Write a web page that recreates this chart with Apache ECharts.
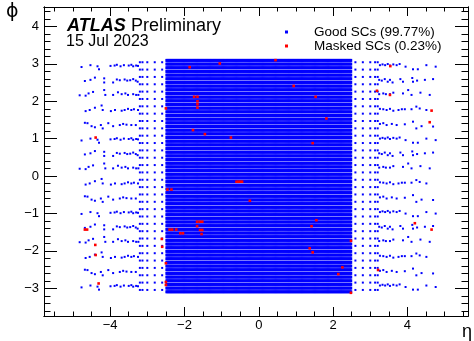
<!DOCTYPE html>
<html lang="en">
<head>
<meta charset="UTF-8">
<title>SC eta-phi map</title>
<script src="https://cdn.jsdelivr.net/npm/echarts@6/dist/echarts.min.js"></script>
<style>
  html, body { margin: 0; padding: 0; background: #fff; }
  #main { width: 474px; height: 341px; }
</style>
</head>
<body>
<div id="main"></div>
<script type="text/javascript">

// detector grid of the super cells
const centralEtaRange = [-2.5, 2.5];
const centralEtaStep = 0.025;
const centralPhiBins = 64;
const endcapEtaAbs = [2.6, 2.8, 3.0, 3.13, 3.2];
const endcapPhiBins = 32;
const fcalPhiBins = 16;

// FCAL band patterns: [eta, phi offset from band centre]
const fcalLeft = [
    [[-4.77,-0.03],[-4.53,0.02],[-4.34,-0.01],[-4.30,-0.09],[-3.99,0],[-3.88,0.01],[-3.82,0.03],[-3.72,-0.01],[-3.63,0.02],[-3.50,0.01],[-3.43,0.03],[-3.38,-0.01],[-3.30,0.01],[-3.25,0]],
    [[-4.68,-0.01],[-4.53,0.02],[-4.41,0.08],[-4.16,0.06],[-4.16,-0.05],[-3.92,-0.05],[-3.82,0.03],[-3.74,0.01],[-3.61,0.03],[-3.54,0],[-3.46,0.01],[-3.38,0.04],[-3.31,0],[-3.26,-0.03]],
    [[-4.82,0],[-4.66,-0.01],[-4.58,0.05],[-4.46,0.09],[-4.16,0.14],[-4.13,0.01],[-3.92,0.01],[-3.79,0.08],[-3.69,0.03],[-3.59,0.05],[-3.52,0.01],[-3.38,0.03],[-3.30,0.01],[-3.24,0.01]],
    [[-4.66,-0.03],[-4.55,0],[-4.41,0.06],[-4.23,0.12],[-4.20,0],[-3.98,-0.03],[-3.87,0],[-3.69,-0.02],[-3.61,0],[-3.52,0.03],[-3.43,0],[-3.36,0.02],[-3.25,0]],
    [[-4.68,0.05],[-4.61,0.04],[-4.50,-0.04],[-4.41,-0.07],[-4.25,-0.01],[-4.20,-0.10],[-4.05,0.04],[-3.92,-0.04],[-3.74,-0.01],[-3.65,0.02],[-3.56,0],[-3.43,-0.01],[-3.31,-0.01]]
];
const fcalRight = [
    [[3.26,0.02],[3.33,0.04],[3.40,0.02],[3.47,0.05],[3.53,0.01],[3.62,0.04],[3.71,0.02],[3.79,0.05],[3.95,-0.02],[4.15,-0.09],[4.28,-0.09],[4.51,0.02],[4.76,-0.02]],
    [[3.24,0.02],[3.31,0],[3.39,0.04],[3.47,-0.03],[3.53,0.02],[3.60,-0.05],[3.81,0.04],[3.88,-0.03],[4.13,0.07],[4.15,-0.03],[4.26,0],[4.47,0.02],[4.69,0.04]],
    [[3.24,0.03],[3.35,0.05],[3.42,0.03],[3.53,0.03],[3.62,0.07],[3.88,0.05],[4.02,0.14],[4.11,0.01],[4.35,0.07],[4.60,0.01]],
    [[3.26,0.03],[3.35,0.02],[3.44,0],[3.53,0.03],[3.62,-0.02],[3.76,0],[3.85,0.02],[3.93,0.02],[4.11,0.02],[4.24,0.09],[4.33,0.04],[4.51,0]],
    [[3.26,0.02],[3.35,0.04],[3.44,-0.01],[3.58,0.02],[3.71,-0.01],[3.93,0.01],[4.15,0.08],[4.24,-0.10],[4.38,-0.04],[4.69,-0.05]]
];

// masked super cells [eta, phi]
const maskedSCs = [
    [-1.86,2.91],[-1.05,3.01],[-1.74,2.12],[-1.65,2.12],[-1.65,2.00],[-1.65,1.92],[-1.65,1.83],
    [-2.50,1.81],[0.45,3.10],[0.94,2.41],[1.53,2.12],[1.82,1.54],[3.54,2.94],[3.18,2.28],
    [3.53,2.17],[4.65,1.75],[4.60,1.44],[-4.39,1.03],[-1.77,1.23],[-1.45,1.12],[-0.75,1.03],
    [1.45,0.88],[-0.60,-0.15],[-0.55,-0.15],[-0.50,-0.15],[-0.45,-0.15],[-0.24,-0.66],
    [-2.46,-0.36],[-2.35,-0.36],[-1.66,-1.22],[-1.59,-1.22],[-1.52,-1.22],[-1.66,-1.34],
    [-1.58,-1.44],[-1.52,-1.44],[-1.54,-1.55],[-2.40,-1.43],[-2.33,-1.43],[-2.22,-1.43],
    [-2.11,-1.53],[-2.04,-1.53],[-2.61,-1.68],[-4.68,-1.43],[-4.62,-1.43],[-4.40,-1.84],
    [-4.39,-2.11],[-4.31,-2.87],[-2.60,-1.89],[-2.50,-2.33],[-2.50,-2.83],[-2.50,-2.91],
    [4.20,-1.26],[4.65,-1.43],[1.42,-1.34],[1.55,-1.18],[2.48,-1.73],[1.37,-1.93],[1.45,-2.04],
    [2.25,-2.44],[2.14,-2.62],[3.21,-2.51],[2.48,-3.12]
];

const xMajor = [-4, -2, 0, 2, 4];
const xMinor = [-5.5,-5,-4.5,-3.5,-3,-2.5,-1.5,-1,-0.5,0.5,1,1.5,2.5,3,3.5,4.5,5,5.5];
const yMajor = [-3, -2, -1, 0, 1, 2, 3, 4];
const yMinor = [-3.6,-3.4,-3.2,-2.8,-2.6,-2.4,-2.2,-1.8,-1.6,-1.4,-1.2,-0.8,-0.6,-0.4,-0.2,
                0.2,0.4,0.6,0.8,1.2,1.4,1.6,1.8,2.2,2.4,2.6,2.8,3.2,3.4,3.6,3.8,4.2,4.4];

// build the cell positions
const centralSCs = [];
const nEta = Math.round((centralEtaRange[1] - centralEtaRange[0]) / centralEtaStep);
for (let j = 0; j < centralPhiBins; j++) {
    const phi = -Math.PI + (j + 0.5) * 2 * Math.PI / centralPhiBins;
    for (let i = 0; i < nEta; i++) {
        centralSCs.push([centralEtaRange[0] + (i + 0.5) * centralEtaStep, phi]);
    }
}
const outerSCs = [];
for (let j = 0; j < endcapPhiBins; j++) {
    const phi = -Math.PI + (j + 0.5) * 2 * Math.PI / endcapPhiBins;
    endcapEtaAbs.forEach(a => { outerSCs.push([-a, phi]); outerSCs.push([a, phi]); });
}
for (let k = 0; k < fcalPhiBins; k++) {
    const phi = -Math.PI + (k + 0.5) * 2 * Math.PI / fcalPhiBins;
    const t = fcalPhiBins - 1 - k;
    fcalLeft[t % fcalLeft.length].forEach(p => outerSCs.push([p[0], phi + p[1]]));
    fcalRight[t % fcalRight.length].forEach(p => outerSCs.push([p[0], phi + p[1]]));
}

const FONT = 'Liberation Sans';
const minus = v => (v < 0 ? '\u2212' + Math.abs(v) : String(v));

function xAx(pos, ticks, len, labels) {
    return {
        type: 'value', position: pos, min: -5.78, max: 5.63,
        axisLine: { show: true, onZero: false, lineStyle: { color: '#000', width: 1 } },
        axisTick: { show: true, inside: true, length: len, customValues: ticks, lineStyle: { color: '#000' } },
        axisLabel: labels ? { show: true, customValues: ticks, formatter: minus, margin: 3,
                              fontFamily: FONT, fontSize: 13, color: '#000' } : { show: false },
        splitLine: { show: false }
    };
}
function yAx(pos, ticks, len, labels) {
    return {
        type: 'value', position: pos, min: -3.74, max: 4.52,
        axisLine: { show: true, onZero: false, lineStyle: { color: '#000', width: 1 } },
        axisTick: { show: true, inside: true, length: len, customValues: ticks, lineStyle: { color: '#000' } },
        axisLabel: labels ? { show: true, customValues: ticks, formatter: minus, margin: 5,
                              fontFamily: FONT, fontSize: 13, color: '#000' } : { show: false },
        splitLine: { show: false }
    };
}

let myChart = echarts.init(document.getElementById('main'));

let option = {
    animation: false,
    backgroundColor: '#fff',
    grid: { left: 44, top: 7, width: 424, height: 309 },
    xAxis: [
        xAx('bottom', xMajor, 9, true),
        xAx('bottom', xMinor, 4.5, false),
        xAx('top', xMajor, 9, false),
        xAx('top', xMinor, 4.5, false)
    ],
    yAxis: [
        yAx('left', yMajor, 13, true),
        yAx('left', yMinor, 6.5, false),
        yAx('right', yMajor, 13, false),
        yAx('right', yMinor, 6.5, false)
    ],
    legend: {
        orient: 'vertical', left: 280, top: 20, itemWidth: 3, itemHeight: 3, itemGap: 0,
        data: ['Good SCs (99.77%)', 'Masked SCs (0.23%)'],
        textStyle: { fontFamily: FONT, fontSize: 13.5, color: '#000', lineHeight: 14, padding: [0, 0, 0, 21] }
    },
    graphic: [
        { type: 'text', left: 67, top: 17, style: { text: 'ATLAS', font: 'italic bold 18px "Liberation Sans"', fill: '#000' } },
        { type: 'text', left: 131, top: 17, style: { text: 'Preliminary', font: '18px "Liberation Sans"', fill: '#000' } },
        { type: 'text', left: 66, top: 34, style: { text: '15 Jul 2023', font: '16px "Liberation Sans"', fill: '#000' } },
        { type: 'text', left: 6, top: 3, style: { text: '\u03d5', font: '19px "DejaVu Sans"', fill: '#000' } },
        { type: 'text', left: 462, top: 323, style: { text: '\u03b7', font: '18px "Liberation Sans"', fill: '#000' } }
    ],
    series: [
        {
            name: 'Good SCs (99.77%)', type: 'scatter', data: centralSCs,
            symbol: 'rect', symbolSize: [2, 3], large: true, largeThreshold: 1000,
            progressive: 0, itemStyle: { color: '#0000ff', opacity: 1 }, silent: true
        },
        {
            name: 'Good SCs (99.77%)', type: 'scatter', data: outerSCs,
            symbol: 'rect', symbolSize: 2, progressive: 0,
            itemStyle: { color: '#0000ff', opacity: 1 }, silent: true
        },
        {
            name: 'Masked SCs (0.23%)', type: 'scatter', data: maskedSCs,
            symbol: 'rect', symbolSize: 2.6, progressive: 0, z: 5,
            itemStyle: { color: '#ff0000', opacity: 1 }, silent: true
        }
    ]
};

myChart.setOption(option);
</script>
</body>
</html>
